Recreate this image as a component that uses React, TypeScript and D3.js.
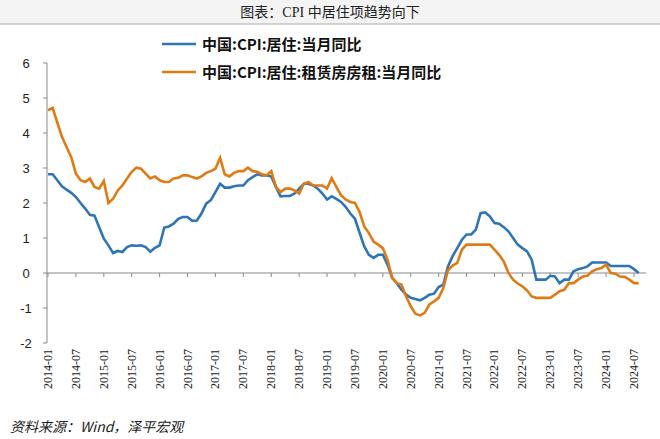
import React from 'react';
import * as d3 from 'd3';

const startYear = 2014;
const housing = [2.82, 2.82, 2.65, 2.48, 2.38, 2.29, 2.17, 2.0, 1.84, 1.66, 1.64, 1.31,
  0.98, 0.79, 0.57, 0.63, 0.6, 0.74, 0.79, 0.78, 0.79, 0.74, 0.61, 0.72,
  0.79, 1.3, 1.33, 1.41, 1.55, 1.6, 1.6, 1.49, 1.5, 1.7, 1.98, 2.08,
  2.31, 2.55, 2.44, 2.44, 2.48, 2.5, 2.5, 2.65, 2.74, 2.82, 2.79, 2.79,
  2.76, 2.46, 2.19, 2.2, 2.2, 2.27, 2.41, 2.55, 2.55, 2.5, 2.41, 2.27,
  2.1, 2.19, 2.12, 2.03, 1.89, 1.7, 1.55, 1.15, 0.76, 0.52, 0.43, 0.52,
  0.52, 0.24, -0.14, -0.29, -0.48, -0.62, -0.71, -0.74, -0.78, -0.71, -0.62, -0.59,
  -0.4, -0.33, 0.19, 0.48, 0.71, 0.95, 1.1, 1.1, 1.24, 1.71, 1.73, 1.62,
  1.43, 1.41, 1.31, 1.19, 1.0, 0.81, 0.71, 0.62, 0.38, -0.19, -0.19, -0.19,
  -0.08, -0.1, -0.29, -0.19, -0.19, 0.05, 0.11, 0.14, 0.19, 0.3, 0.3, 0.3,
  0.3, 0.2, 0.2, 0.2, 0.2, 0.2, 0.11, 0.0];
const rent = [4.65, 4.72, 4.3, 3.89, 3.6, 3.31, 2.84, 2.65, 2.6, 2.7, 2.46, 2.41,
  2.63, 2.0, 2.12, 2.36, 2.5, 2.7, 2.89, 3.01, 2.98, 2.84, 2.7, 2.76,
  2.65, 2.6, 2.6, 2.7, 2.72, 2.79, 2.79, 2.74, 2.7, 2.76, 2.86, 2.91,
  2.98, 3.29, 2.82, 2.76, 2.86, 2.91, 2.91, 3.01, 2.91, 2.89, 2.82, 2.79,
  2.91, 2.46, 2.31, 2.41, 2.41, 2.36, 2.27, 2.55, 2.6, 2.5, 2.5, 2.5,
  2.41, 2.71, 2.46, 2.22, 2.1, 2.03, 2.0, 1.74, 1.33, 1.14, 0.9, 0.81,
  0.71, 0.38, -0.14, -0.29, -0.33, -0.67, -0.95, -1.16, -1.21, -1.14, -0.9, -0.81,
  -0.71, -0.43, 0.08, 0.21, 0.29, 0.67, 0.81, 0.81, 0.81, 0.81, 0.81, 0.81,
  0.67, 0.52, 0.33, 0.0, -0.19, -0.3, -0.38, -0.5, -0.67, -0.71, -0.71, -0.71,
  -0.71, -0.62, -0.52, -0.48, -0.29, -0.29, -0.19, -0.1, -0.08, 0.05, 0.11, 0.14,
  0.24, 0.0, -0.02, -0.1, -0.11, -0.19, -0.29, -0.29];
const yTicks = [-2, -1, 0, 1, 2, 3, 4, 5, 6];
const tickMonths = d3.range(0, 127, 6);
const seriesNames = ['中国:CPI:居住:当月同比', '中国:CPI:居住:租赁房房租:当月同比'];
const colors = ['#2E75B6', '#E07B14'];

const monthLabel = (m: number) => `${startYear + Math.floor(m / 12)}-${String((m % 12) + 1).padStart(2, '0')}`;

export default function App() {
  const W = 660, H = 439;
  const x = d3.scaleLinear().domain([0, 126]).range([48, 634]);
  const y = d3.scaleLinear().domain([-2, 6]).range([343, 63]);
  const line = d3.line<number>().x((_, i) => x(i)).y(d => y(d));
  const font = '"Noto Sans CJK SC", sans-serif';
  return (
    <svg width={W} height={H} style={{ position: 'absolute', left: 0, top: 0 }}>
      <rect width={W} height={H} fill="#fff" />
      <rect x={0} y={0} width={W} height={24} fill="#f4f4f4" />
      <line x1={0} x2={W} y1={24} y2={24} stroke="#999" strokeWidth={0.8} />
      <text x={W / 2} y={17} textAnchor="middle" fontSize={14} fontFamily={'"Liberation Serif", "Noto Sans CJK SC", serif'} fill="#222">图表：CPI 中居住项趋势向下</text>
      {yTicks.map(t => (
        <g key={t}>
          <line x1={43} x2={47} y1={y(t)} y2={y(t)} stroke="#888" />
          <text x={26} y={y(t) + 5} textAnchor="middle" fontSize={13} fontFamily="Liberation Sans, sans-serif" fill="#222">{t}</text>
        </g>
      ))}
      <line x1={47} x2={47} y1={y(6)} y2={y(-2)} stroke="#888" />
      <line x1={47} x2={646} y1={y(0)} y2={y(0)} stroke="#888" />
      {tickMonths.map(m => (
        <g key={m}>
          <line x1={x(m)} x2={x(m)} y1={y(0)} y2={y(0) + 4} stroke="#888" />
          <text transform={`translate(${x(m) + 4},${349}) rotate(-90)`} textAnchor="end" fontSize={12} fontFamily="Liberation Serif, serif" fill="#222">{monthLabel(m)}</text>
        </g>
      ))}
      {[housing, rent].map((s, i) => (
        <path key={i} d={line(s) ?? ''} fill="none" stroke={colors[i]} strokeWidth={2.6} />
      ))}
      {seriesNames.map((n, i) => (
        <g key={n} transform={`translate(162,${44 + i * 28})`}>
          <line x1={0} x2={34} y1={0} y2={0} stroke={colors[i]} strokeWidth={2.6} />
          <text x={40} y={6} fontSize={15} fontWeight="bold" fontFamily={font} fill="#111">{n}</text>
        </g>
      ))}
      <text x={10} y={432} fontSize={14} fontStyle="italic" fontFamily={font} fill="#222">资料来源：Wind，泽平宏观</text>
    </svg>
  );
}
